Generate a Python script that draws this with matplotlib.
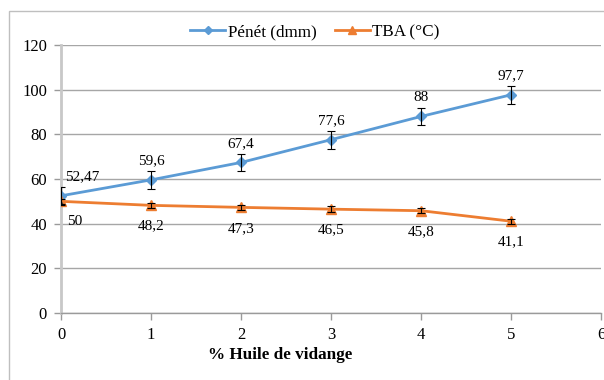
import matplotlib.pyplot as plt
from matplotlib.patches import Rectangle

plt.rcParams['font.family'] = ['Liberation Serif', 'DejaVu Serif']

# % huile de vidange
huile = [0, 1, 2, 3, 4, 5]
# Pénétrabilité (dmm) and TBA (°C)
penet = [52.47, 59.6, 67.4, 77.6, 88, 97.7]
tba = [50, 48.2, 47.3, 46.5, 45.8, 41.1]
penet_err = [4, 4, 4, 4, 4, 4]
tba_err = [1.2, 1.2, 1.2, 1.2, 1.2, 1.2]
penet_labels = ['52,47', '59,6', '67,4', '77,6', '88', '97,7']
tba_labels = ['50', '48,2', '47,3', '46,5', '45,8', '41,1']

blue = '#5B9BD5'
orange = '#ED7D31'

W, H = 604, 380
fig = plt.figure(figsize=(W / 100, H / 100), dpi=100)
ax = fig.add_axes([61 / W, (H - 313) / H, (601 - 61) / W, (313 - 45) / H])

# outer chart frame
fig.patches.append(Rectangle((9 / W, -0.1), 1.0, 1 - 11 / H + 0.1,
                             transform=fig.transFigure, fill=False,
                             edgecolor='#BFBFBF', linewidth=1.0))

ax.plot(huile, penet, color=blue, lw=2, marker='D', ms=5, label='Pénét (dmm)', zorder=3)
ax.plot(huile, tba, color=orange, lw=2, marker='^', ms=7, label='TBA (°C)', zorder=3)
ax.errorbar(huile, penet, yerr=penet_err, fmt='none', ecolor='black',
            elinewidth=0.8, capsize=3, capthick=0.8, zorder=4)
ax.errorbar(huile, tba, yerr=tba_err, fmt='none', ecolor='black',
            elinewidth=0.8, capsize=3, capthick=0.8, zorder=4)

# data labels
for i, (x, y) in enumerate(zip(huile, penet)):
    dx = 15 if i == 0 else 0
    ax.annotate(penet_labels[i], (x, y), xytext=(dx, 13.5), textcoords='offset points',
                ha='center', va='center', fontsize=11)
for i, (x, y) in enumerate(zip(huile, tba)):
    if i == 0:
        ax.annotate(tba_labels[i], (x, y), xytext=(9.5, -14.5), textcoords='offset points',
                    ha='center', va='center', fontsize=11,
                    arrowprops=dict(arrowstyle='-', color='#404040', lw=0.8,
                                    shrinkA=6, shrinkB=1))
    else:
        ax.annotate(tba_labels[i], (x, y), xytext=(0, -15), textcoords='offset points',
                    ha='center', va='center', fontsize=11)

ax.set_xlim(0, 6)
ax.set_ylim(0, 120)
ax.set_xticks(range(0, 7))
ax.set_yticks(range(0, 121, 20))
ax.grid(axis='y', color='#A6A6A6', lw=1)
ax.set_axisbelow(True)
for s in ['top', 'right']:
    ax.spines[s].set_visible(False)
ax.spines['left'].set_color('#C8C8C8')
ax.spines['left'].set_linewidth(2)
ax.spines['bottom'].set_color('#9A9A9A')
ax.spines['bottom'].set_linewidth(1)
ax.tick_params(axis='both', labelsize=12, color='#9A9A9A', length=5, width=1)
ax.tick_params(axis='x', pad=5)
ax.tick_params(axis='y', pad=5)

fig.text(280 / W, 1 - 355 / H, '% Huile de vidange', ha='center', va='center',
         fontsize=12.3, fontweight='bold')
fig.legend(loc='center', bbox_to_anchor=(315 / W, 1 - 32 / H), ncol=2, frameon=False,
           fontsize=12.3, handlelength=2.05, columnspacing=1.05, handletextpad=0.15,
           markerscale=0.8)

fig.savefig('out.png', dpi=100)
